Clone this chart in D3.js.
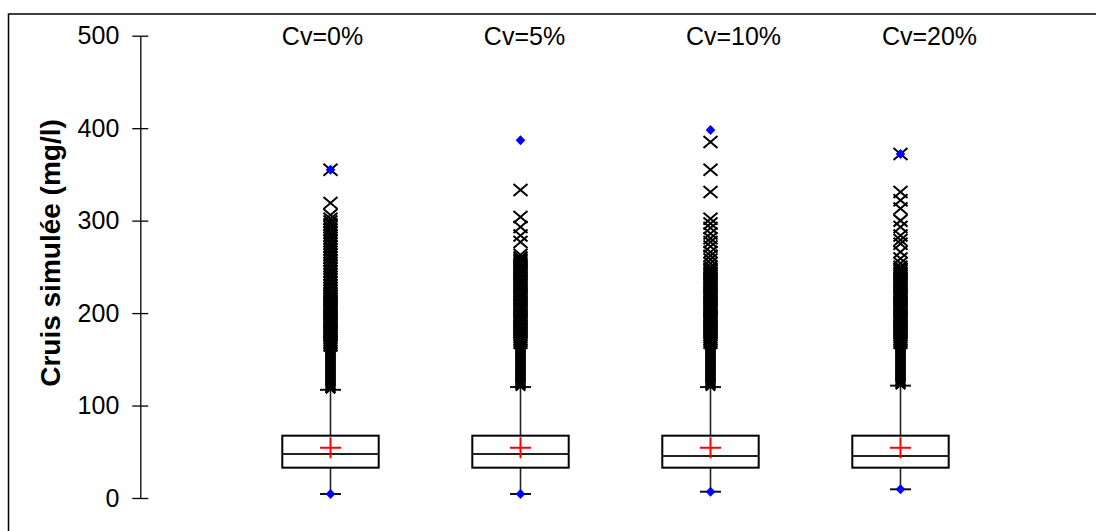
<!DOCTYPE html>
<html>
<head>
<meta charset="utf-8">
<script src="https://cdn.jsdelivr.net/npm/d3@7/dist/d3.min.js"></script>
<style>
  html, body { margin: 0; padding: 0; background: #fff; }
  svg { display: block; font-family: "Liberation Sans", Arial, sans-serif; }
</style>
</head>
<body>
<svg id="chart" width="1096" height="531"></svg>
<script>
// ---------------- DATA ----------------
const categories = ["Cv=0%", "Cv=5%", "Cv=10%", "Cv=20%"];
const yTicks = [0, 100, 200, 300, 400, 500];
const minVals = [4.3, 4.3, 6.8, 9.4];
const q1Vals = [32.8, 32.8, 32.8, 32.8];
const medianVals = [47.6, 47.6, 45.4, 45.4];
const q3Vals = [67.4, 67.4, 67.4, 67.4];
const meanVals = [54.4, 54.4, 54.4, 54.4];
const whiskerHigh = [117, 120, 120, 121.5];
const maxVals = [355, 387, 398, 372];

// densely packed outliers just above the upper whisker
const outliersNear = [
  [118,119.5,121,122.5,124,125.5,127,128.5,130,131.5,133,134.5,136,137.5,139,140.5,142,143.5,145,146.5,148,149.5,151,152.5,154,155.5,157,158.5,160,161.5,163],
  [121,122.5,124,125.5,127,128.5,130,131.5,133,134.5,136,137.5,139,140.5,142,143.5,145,146.5,148,149.5,151,152.5,154,155.5,157,158.5,160,161.5,163,164.5,166],
  [121,122.5,124,125.5,127,128.5,130,131.5,133,134.5,136,137.5,139,140.5,142,143.5,145,146.5,148,149.5,151,152.5,154,155.5,157,158.5,160,161.5,163,164.5,166],
  [122.5,124,125.5,127,128.5,130,131.5,133,134.5,136,137.5,139,140.5,142,143.5,145,146.5,148,149.5,151,152.5,154,155.5,157,158.5,160,161.5,163,164.5,166]
];
// outliers drawn as individual crosses
const outliersFar = [
  [165,167,169,171,173,175,177,179,181,183,185,187,189,191,193,195,197,199,201,203,205,207,209,211,213,215,217,219,221,224,227,230,233,236,239,242,245,248,251,254,257,260,263,266,269,272,275,278,281,284,287,290,293,296,299,302,306,319,355],
  [168,170,172,174,176,178,180,182,184,186,188,190,192,194,196,198,200,202,204,206,208,210,212,214,216,218,220,222,224,226,228,230,232,234,236,238,240,242,244,246,248,250,252,254,256,258,260,263,277,284,293,304,333],
  [168,170,172,174,176,178,180,182,184,186,188,190,192,194,196,198,200,202,204,206,208,210,212,214,216,218,220,222,224,226,228,230,232,234,236,238,240,242,244,246,248,250,254,258,262,266,272,277,281,286,292,297,302,331,355,385],
  [168,170,172,174,176,178,180,182,184,186,188,190,192,194,196,198,200,202,204,206,208,210,212,214,216,218,220,222,224,226,228,230,232,234,236,238,240,242,244,246,248,250,254,259,266,275,279,284,293,300,313,322,331,372]
];

// ---------------- LAYOUT ----------------
const svg = d3.select("#chart");
const font = '"Liberation Sans", Arial, sans-serif';
const y = d3.scaleLinear().domain([0, 500]).range([498, 35.7]);
const x = d3.scalePoint().domain(categories).range([330.5, 900.5]);
const axisX = 140.3;
const boxHalf = 48.2;
const capHalf = 10.5;
const labelOffsets = [-8, 4, 23, 29];

// outer frame (only top and left edges visible)
svg.append("path")
  .attr("d", "M8.5,560 L8.5,14 L1110,14")
  .attr("fill", "none").attr("stroke", "#000").attr("stroke-width", 1.5);

// y axis
const axis = d3.axisLeft(y).tickValues(yTicks).tickSize(8).tickSizeOuter(0).tickPadding(13);
const gAxis = svg.append("g").attr("transform", `translate(${axisX},0)`).call(axis);
gAxis.select(".domain").attr("stroke", "#000").attr("stroke-width", 1.3);
gAxis.selectAll(".tick line").attr("x1", 8).attr("stroke", "#000").attr("stroke-width", 1.3);
gAxis.selectAll(".tick text").attr("font-size", 25).attr("font-family", font).attr("fill", "#000");

// y title
svg.append("text")
  .attr("transform", "translate(60,253) rotate(-90)")
  .attr("text-anchor", "middle")
  .attr("font-size", 28).attr("font-weight", "bold").attr("font-family", font)
  .text("Cruis simulée (mg/l)");

// category labels
svg.selectAll(".cat").data(categories).join("text")
  .attr("class", "cat")
  .attr("x", (d, i) => x(d) + labelOffsets[i])
  .attr("y", 45)
  .attr("text-anchor", "middle")
  .attr("font-size", 25).attr("font-family", font)
  .text(d => d);

const boxes = categories.map((c, i) => ({
  c, min: minVals[i], q1: q1Vals[i], med: medianVals[i], q3: q3Vals[i],
  mean: meanVals[i], wh: whiskerHigh[i], max: maxVals[i],
  near: outliersNear[i], far: outliersFar[i]
}));

const g = svg.selectAll(".box").data(boxes).join("g").attr("class", "box");

// whiskers
g.append("line")
  .attr("x1", d => x(d.c)).attr("x2", d => x(d.c))
  .attr("y1", d => y(d.min)).attr("y2", d => y(d.wh))
  .attr("stroke", "#222").attr("stroke-width", 1.6);
g.append("line")
  .attr("x1", d => x(d.c) - capHalf).attr("x2", d => x(d.c) + capHalf)
  .attr("y1", d => y(d.min)).attr("y2", d => y(d.min))
  .attr("stroke", "#111").attr("stroke-width", 2);
g.append("line")
  .attr("x1", d => x(d.c) - capHalf).attr("x2", d => x(d.c) + capHalf)
  .attr("y1", d => y(d.wh)).attr("y2", d => y(d.wh))
  .attr("stroke", "#111").attr("stroke-width", 2);

// box
g.append("rect")
  .attr("x", d => x(d.c) - boxHalf).attr("width", boxHalf * 2)
  .attr("y", d => y(d.q3)).attr("height", d => y(d.q1) - y(d.q3))
  .attr("fill", "#fff").attr("stroke", "#000").attr("stroke-width", 2);
g.append("line")
  .attr("x1", d => x(d.c) - boxHalf).attr("x2", d => x(d.c) + boxHalf)
  .attr("y1", d => y(d.med)).attr("y2", d => y(d.med))
  .attr("stroke", "#222").attr("stroke-width", 2);

// mean cross
g.append("path")
  .attr("d", d => {
    const cx = x(d.c), cy = y(d.mean);
    return `M${cx - 10.5},${cy} H${cx + 10.5} M${cx},${cy - 10.5} V${cy + 10.5}`;
  })
  .attr("stroke", "#ff0000").attr("stroke-width", 2).attr("fill", "none");

// outliers
g.each(function(d) {
  const cx = x(d.c);
  d3.select(this).selectAll(".near").data(d.near).join("path")
    .attr("class", "near")
    .attr("d", v => {
      const cy = y(v);
      return `M${cx - 4.8},${cy - 4.5} L${cx + 4.8},${cy + 4.5} M${cx - 4.8},${cy + 4.5} L${cx + 4.8},${cy - 4.5}`;
    })
    .attr("stroke", "#000").attr("stroke-width", 2.2).attr("fill", "none");
  d3.select(this).selectAll(".far").data(d.far).join("path")
    .attr("class", "far")
    .attr("d", v => {
      const cy = y(v);
      return `M${cx - 7},${cy - 6} L${cx + 7},${cy + 6} M${cx - 7},${cy + 6} L${cx + 7},${cy - 6}`;
    })
    .attr("stroke", "#000").attr("stroke-width", 2).attr("fill", "none");
});

// min / max diamonds
const diamond = (cx, cy) => `M${cx},${cy - 5} L${cx + 4.8},${cy} L${cx},${cy + 5} L${cx - 4.8},${cy} Z`;
g.append("path").attr("d", d => diamond(x(d.c), y(d.min))).attr("fill", "#0000ff");
g.append("path").attr("d", d => diamond(x(d.c), y(d.max))).attr("fill", "#0000ff");
</script>
</body>
</html>
